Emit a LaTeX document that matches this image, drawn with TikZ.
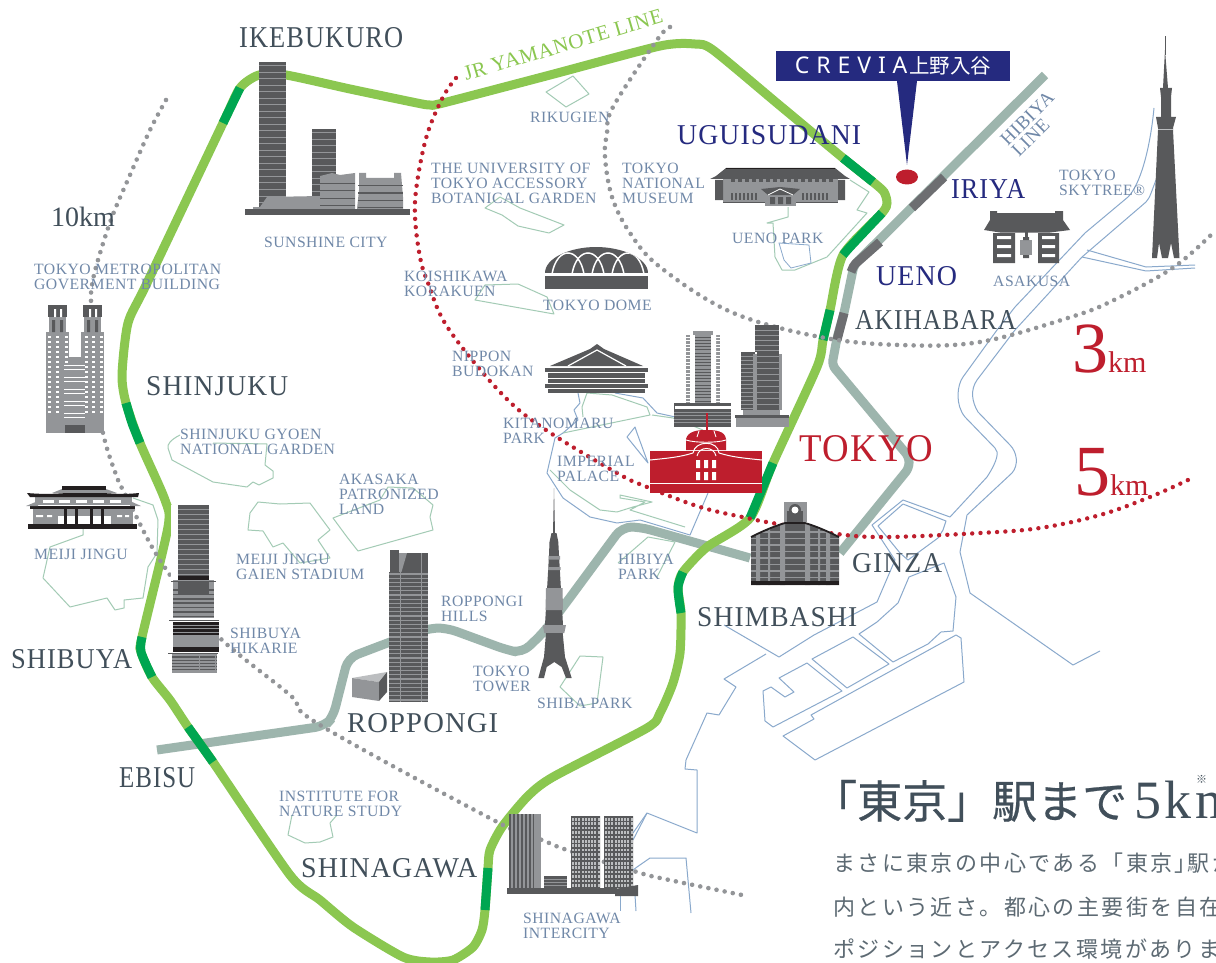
\documentclass[tikz,border=0pt]{standalone}
\usepackage{graphicx}
\usepackage{fontspec}
\setmainfont{Liberation Serif}
\newfontfamily\tjs[LetterSpace=3]{Liberation Serif}
\newfontfamily\tjb[LetterSpace=4]{Liberation Serif}
\newfontfamily\cjk{Noto Sans CJK JP}
\newfontfamily\cjkh[FakeBold=0.5]{Noto Sans CJK JP}
\newfontfamily\cjkb[LetterSpace=11]{Noto Sans CJK JP}
\newfontfamily\crv[LetterSpace=30]{Noto Sans}
\definecolor{bdk}{HTML}{58595B}
\definecolor{bmd}{HTML}{939598}
\definecolor{blt}{HTML}{BCBEC0}
\definecolor{blk}{HTML}{231F20}
\definecolor{rd}{HTML}{BE1E2D}
\definecolor{nv}{HTML}{252A7F}
\definecolor{stnc}{HTML}{414F5A}
\definecolor{smlc}{HTML}{7088A8}
\definecolor{lg}{HTML}{8BC750}
\definecolor{dg}{HTML}{00A651}
\definecolor{hib}{HTML}{9DB5AD}
\definecolor{hdk}{HTML}{6D6E71}
\definecolor{wat}{HTML}{8AA9CC}
\definecolor{prk}{HTML}{A3CBB5}
\definecolor{bodyc}{HTML}{5D6A73}
\tikzset{
  water/.style={draw=wat,line width=1pt,line join=round},
  park/.style={draw=prk,line width=1pt,line join=round},
  yama/.style={draw=lg,line width=9pt},
  yamad/.style={draw=dg,line width=9pt},
  hibi/.style={draw=hib,line width=9pt},
  hibid/.style={draw=hdk,line width=9pt},
  ringgray/.style={draw=bmd,line width=4.6pt,line cap=round,dash pattern=on 0pt off 8.3pt},
  ringred/.style={draw=rd,line width=4.4pt,line cap=round,dash pattern=on 0pt off 8.3pt},
  smalllab/.style={anchor=north west,inner sep=0pt,yshift=-1.5pt,align=left,text=smlc,font={\tjs\fontsize{15.7}{15}\selectfont}},
}
% station label fitted to the reference extent
\newcommand\stn[7]{\node[anchor=base west,inner sep=0pt,text=#6] (#1) at (#2,#3) {\resizebox{#4pt}{#5pt}{\tjb\fontsize{27}{27}\selectfont #7}};}
\newcommand\hstr[7]{\pgfmathsetmacro\yb{#2+#5}\foreach \yy in {#2,\yb,...,#4}{\draw[#6,line width=#7pt] (#1,\yy) -- (#3,\yy);}}
\newcommand\vstr[7]{\pgfmathsetmacro\xb{#1+#5}\foreach \xx in {#1,\xb,...,#3}{\draw[#6,line width=#7pt] (\xx,#2) -- (\xx,#4);}}
\begin{document}
\begin{tikzpicture}[x=1pt,y=-1pt]
\path[clip] (0,0) rectangle (1216,963);
\fill[white] (0,0) rectangle (1216,963);
% ---------- water
\path[water] (1154,108) .. controls (1150,150) and (1140,185) .. (1128,197) -- (1085,233) -- (1015,307) -- (997,330) -- (963,377) .. controls (957,385) and (955,405) .. (965,417) -- (995,448) .. controls (999,452) and (998,460) .. (987,477) -- (950,517) -- (903,500) -- (872,525) -- (895,560) -- (877,602) -- (814,635) -- (779,657) -- (724,625);
\path[water] (1156,180) .. controls (1152,190) and (1150,198) .. (1146,202) -- (1082,257) -- (1015,330) -- (977,380) .. controls (970,390) and (972,402) .. (978,412) -- (1010,445) .. controls (1017,452) and (1019,465) .. (1012,473) -- (967,515) -- (960,552) -- (970,593) -- (1073,665) -- (1100,651);
\path[water] (1087,250) -- (1146,267) -- (1195,265);
\path[water] (1082,257) -- (1146,271) -- (1195,268);
\path[water] (946,521) -- (903,504) -- (878,526) -- (900,553) -- (908,560) -- (938,538) -- (943,530) -- cycle;
\path[water] (909,577) -- (944,563) -- (956,597) -- (953,631) -- (941,632) -- (928,644) -- (893,662) -- (859,634) -- (877,622) -- (898,603) -- cycle;
\path[water] (812,659) -- (853,637) -- (889,664) -- (847,688) -- cycle;
\path[water] (807,663) -- (842,691) -- (773,727) -- (765,721) -- (763,691) -- (771,687) -- (785,697) -- (794,692) -- (779,678) -- cycle;
\path[water] (956,635) -- (961,638) -- (964,682) -- (815,760) -- (783,736) -- (814,719) -- (811,715) -- cycle;
\path[water] (766,654) -- (724,679) -- (736,687) -- (719,715) -- (707,713) -- (686,760) -- (685,769) -- (697,770) -- (697,833) -- (647,813) -- (633,833);
\path[water] (620,880) -- (637,867) -- (650,858) -- (686,858) -- (691,913);
\path[water] (633,840) -- (647,813);
\path[water] (620,895) -- (620,911);
\path[water] (635,895) -- (636,911);
\path[water] (578,393) -- (580,403) -- (574,410) -- (578,420) -- (563,433) -- (555,438) -- (547,473) -- (563,498) -- (590,517) -- (617,523) -- (640,520) -- (690,535) -- (708,493);
\path[water] (615,393) -- (643,398) -- (657,413) -- (680,418);
\path[water] (635,427) -- (627,437) -- (648,463) -- (637,433) -- cycle;
% ---------- parks
\path[park] (546,92) -- (573,76) -- (589,94) -- (566,107) -- cycle;
\path[park] (475,300) -- (485,285) -- (518,284) -- (547,297) -- (554,314) -- cycle;
\path[park] (485,208) -- (500,197) -- (520,208) -- (564,225) -- (549,233) -- (518,226) -- (502,215) -- cycle;
\path[park] (850,180) -- (869,192) -- (857,210) -- (867,213) -- (827,257) -- (795,270) -- (782,270) -- (775,257) -- (773,223) -- (767,223) -- (788,217) -- (788,207);
\path[draw=wat,line width=.8pt] (779,243) -- (809,245) -- (811,263) -- (791,268) -- (784,260) -- cycle;
\path[park] (180,435) .. controls (170,440) and (167,445) .. (168,448) -- (172,460) -- (213,482) -- (247,487) -- (253,482) -- (259,485) -- (273,478) -- (273,471) -- (265,465) -- (267,444) -- (213,443);
\path[park] (333,518) -- (380,500) -- (388,487) -- (413,488) -- (433,505) -- (430,517) -- (433,530) -- (358,551) -- (347,537) -- cycle;
\path[park] (248,530) -- (250,513) -- (258,502) -- (280,504) -- (310,503) -- (330,530) -- (318,540) -- (330,558) -- (300,563) -- (283,543) -- (273,547) -- (263,531) -- cycle;
\path[park] (83,513) -- (83,535) -- (50,547) -- (43,578) -- (70,607) -- (107,598) -- (115,610) -- (124,608) -- (124,600) -- (143,598) -- (148,567) -- (157,553) -- (158,520) -- (153,505) -- (133,498);
\path[park] (292,815) -- (288,835) -- (305,843) -- (320,842) -- (333,837) -- (330,823) -- (337,815);
\path[park] (560,687) -- (580,656) -- (603,657) -- (597,703) -- (580,706) -- cycle;
\path[park] (618,563) -- (648,537) -- (675,542) -- (657,577);
\path[park] (563,433) -- (650,415) -- (647,407) -- (612,395) -- (587,393) -- (582,407) -- (583,417);
\path[park] (550,470) -- (570,490) -- (600,510) -- (617,512) -- (633,507) -- (652,502) -- (620,495) -- (620,498) -- (645,502) -- (630,510) -- (685,527);
\path[park] (652,415) -- (673,418) -- (703,430);
% ---------- rail lines
\draw[hibi,rounded corners=10pt] (750,558) -- (640,527) -- (622,527) -- (563,607) -- (543,633) -- (522,653) -- (507,650) -- (447,628) -- (430,628) -- (390,642) -- (348,658) -- (333,717) -- (325,726) -- (157,750);
\draw[hibi,rounded corners=5pt] (1045,75) -- (854,265) -- (844,313) -- (837,338) -- (832,365) -- (909,457) -- (909,468) -- (840,553);
\draw[hibid] (944,177) -- (912,208);
\draw[hibid,rounded corners=2pt] (880,242) -- (854,265) -- (851,272);
\draw[hibid] (844,313) -- (837,340);
\draw[yama] plot[smooth cycle,tension=.42] coordinates {(259,75) (286,75) (350,89) (417,103) (430,105) (443,103) (550,75) (660,46) (695,44) (713,50) (778,104) (843,158) (873,182) (884,192) (887,203) (882,213) (843,255) (830,310) (823,340) (817,367) (773,463) (750,518) (707,547) (683,572) (678,588) (681,613) (680,653) (673,683) (660,713) (647,728) (553,777) (527,797) (502,827) (490,850) (488,868) (485,910) (482,930) (473,947) (453,960) (430,962) (403,957) (353,927) (320,900) (290,875) (213,762) (188,727) (170,700) (152,677) (141,652) (142,637) (168,527) (165,500) (140,443) (126,403) (122,375) (128,323) (147,283) (223,123) (240,88)};
\draw[yamad] (240,88) -- (223,123);
\draw[yamad] plot[smooth,tension=.4] coordinates {(126,403) (132,423) (140,443)};
\draw[yamad] plot[smooth,tension=.5] coordinates {(142,637) (141,652) (152,677)};
\draw[yamad] (188,727) -- (213,762);
\draw[yamad] (488,868) -- (485,910);
\draw[yamad] plot[smooth,tension=.5] coordinates {(683,572) (678,588) (681,613)};
\draw[yamad] (773,463) -- (750,518);
\draw[yamad] (830,310) -- (823,340);
\draw[yamad] plot[smooth,tension=.3] coordinates {(882,213) (850,247) (843,255)};
\draw[yamad] (843,158) -- (873,182);
% ---------- rings
\draw[ringgray] plot[smooth,tension=.6] coordinates {(670,27) (657,40) (613,107) (607,133) (605,157) (612,197) (630,233) (660,267) (731,312) (820,337) (900,345) (980,342) (1071,317) (1114,300) (1174,267) (1216,230)};
\draw[ringgray] plot[smooth,tension=.6] coordinates {(166,100) (150,130) (130,175) (112,217) (98,260) (92,285) (91,303) (92,360) (103,433) (118,480) (123,490) (137,518) (152,547) (170,575) (190,600) (222,640) (290,695) (320,725) (503,825) (542,840) (567,850) (637,872) (660,878) (742,895)};
\draw[ringred] plot[smooth,tension=.6] coordinates {(456,78) (443,97) (427,135) (417,183) (415,217) (420,257) (428,283) (448,328) (500,392) (543,428) (617,473) (647,487) (700,507) (747,518) (772,523) (837,534) (887,537) (980,533) (1040,528) (1100,515) (1150,497) (1188,480)};
% ---------- Sunshine City
\fill[bdk] (259,62) rectangle (286,207);
\hstr{259}{66}{286}{205}{6.5}{bmd}{1}
\fill[bdk] (312,129) rectangle (336,200);
\hstr{312}{133}{336}{198}{6.5}{bmd}{1}
\fill[bmd] (253,209) -- (253,207) -- (260,207) -- (267,197) -- (320,196) -- (320,209) -- cycle;
\fill[bmd] (320,176) -- (332,173) -- (340,175) -- (355,173) -- (355,209) -- (320,209) -- cycle;
\fill[bmd] (359,173) -- (366,173) -- (366,178) -- (394,178) -- (394,173) -- (401,173) -- (403,197) -- (403,209) -- (357,209) -- (359,190) -- cycle;
\hstr{320}{184}{355}{207}{7}{bdk}{1}
\hstr{358}{186}{403}{207}{7}{bdk}{1}
\fill[bdk] (245,209) rectangle (410,215);
% ---------- Tokyo metropolitan building
\fill[bmd] (46,332) rectangle (69,433);
\fill[bmd] (81,332) rectangle (104,433);
\fill[bmd] (69,357) rectangle (81,433);
\fill[bmd] (49,317) rectangle (66,332);
\fill[bmd] (84,317) rectangle (101,332);
\fill[bdk] (48,305) rectangle (67,317);
\fill[bdk] (83,305) rectangle (102,317);
\fill[white] (54,309) rectangle (56,317) (60,309) rectangle (62,317) (89,309) rectangle (91,317) (95,309) rectangle (97,317);
\fill[bdk] (52,320) rectangle (55,332) (60,320) rectangle (63,332) (87,320) rectangle (90,332) (95,320) rectangle (98,332);
\foreach \xx in {48,56,65,85,92,100}{\foreach \yy in {336,341,...,415}{\fill[white] (\xx,\yy) rectangle (\xx+3,\yy+2);}}
\fill[bmd] (64,363) rectangle (85,433);
\foreach \yy in {365,377,389,401,413}{\draw[white,line width=.9pt] (64,\yy) -- (85,\yy) (64,\yy+4) -- (85,\yy+4);}
\fill[bdk] (65,425) rectangle (85,433);
% ---------- Meiji Jingu
\fill[blk] (28,524) rectangle (137,529);
\fill[bmd] (33,509) rectangle (133,524);
\fill[white] (58,516) rectangle (111,524);
\foreach \xx in {64,75,90,101}{\fill[blk] (\xx,509) rectangle (\xx+3,524);}
\fill[white] (36,515) rectangle (43,517) (47,515) rectangle (52,517) (117,515) rectangle (122,517) (125,515) rectangle (129,517);
\fill[bmd] (35,497) rectangle (132,505);
\foreach \xx in {43,59,76,93,110}{\fill[white] (\xx,500) rectangle (\xx+11,503);}
\fill[blk] (30,506) rectangle (135,509);
\fill[bmd] (26,506) -- (38,501) -- (38,506) -- cycle;
\fill[bmd] (141,506) -- (130,501) -- (130,506) -- cycle;
\fill[bmd] (52,493) -- (62,489) -- (106,489) -- (117,493) -- cycle;
\fill[blk] (62,486) rectangle (106,490);
\fill[blk] (27,493) .. controls (50,495) and (60,493) .. (70,493) -- (100,493) .. controls (110,493) and (120,495) .. (139,493) -- (138,497) -- (30,497) -- cycle;
% ---------- Shibuya Hikarie
\fill[white] (171,505) rectangle (219,675);
\fill[bdk] (178,505) rectangle (209,576);
\hstr{178}{509}{209}{574}{5}{bmd}{1}
\fill[blk] (178,576) rectangle (209,580);
\fill[bmd] (173,580) rectangle (214,618);
\hstr{173}{590}{214}{618}{4.4}{bdk}{1.5}
\fill[bdk] (178,582) rectangle (209,595);
\draw[bdk,line width=1pt] (171,581) -- (216,581) (169,620) -- (219,620) (168,653) -- (218,653);
\fill[blk] (173,622) rectangle (219,635);
\hstr{173}{625}{219}{634}{3.6}{bmd}{.9}
\fill[bmd] (173,635) rectangle (219,647);
\fill[blk] (173,647) rectangle (219,652);
\fill[bmd] (172,654) rectangle (217,673);
\hstr{172}{657}{217}{672}{3.2}{bdk}{1.3}
\draw[bmd,line width=1pt] (199,654) -- (199,673) (215.5,654) -- (215.5,673);
% ---------- Roppongi Hills
\fill[bdk] (390,550) rectangle (399,572);
\fill[bdk] (399,553) rectangle (428,572);
\fill[bmd] (399,553) -- (407,553) -- (401.5,572) -- (399,572) -- cycle;
\fill[bmd] (421,553) rectangle (422,572);
\fill[bdk] (389,572) rectangle (428,702);
\hstr{389}{574}{428}{701}{4.2}{bmd}{1.2}
\draw[bmd,line width=1pt] (400,572) -- (400,702) (421,572) -- (421,702);
\fill[blt] (352,678) -- (387,672) -- (379,682) -- cycle;
\fill[bmd] (352,678) -- (379,682) -- (379,701) -- (352,697) -- cycle;
\fill[bdk] (379,682) -- (387,672) -- (387,692) -- (379,701) -- cycle;
% ---------- Tokyo Tower
\fill[bdk] (554,488) -- (555,533) -- (556.5,533) -- (558.3,542) -- (559,555) -- (563,625) -- (545,625) -- (549,555) -- (549.5,542) -- (551.5,533) -- (553,533) -- cycle;
\fill[bmd] (548.5,556) rectangle (560,559.5) (548,567) rectangle (560.5,570);
\fill[bmd] (546,588) -- (562.5,588) -- (563,610) -- (545.5,610) -- cycle;
\fill[bmd] (542.7,625) -- (566,625) -- (564.3,633) -- (544.3,633) -- cycle;
\fill[bdk] (546,633) -- (562.7,633) -- (565,657) -- (571.7,678) -- (566,678) -- (561.7,667) -- (554.3,662) -- (546.7,667) -- (544,678) -- (538.3,678) -- (544,657) -- cycle;
% ---------- Tokyo Dome
\begin{scope}
\clip (545,273) .. controls (545,258) and (570,247) .. (596,247) .. controls (622,247) and (648,258) .. (648,273) -- cycle;
\fill[bdk] (545,245) rectangle (648,273);
\foreach \s in {552,572,592,612}{\draw[white,line width=1.5pt] (\s,274) .. controls (\s+5,246) and (\s+27,246) .. (\s+32,274);}
\end{scope}
\fill[bdk] (545,276) rectangle (648,289);
% ---------- Budokan
\fill[bdk] (550,366) -- (590,349) -- (597,344) -- (604,349) -- (643,366) -- cycle;
\draw[white,line width=1.2pt] (568,366) -- (597,350) -- (626,366);
\fill[bdk] (545,368) rectangle (648,372);
\fill[bdk] (548,373) rectangle (645,378);
\fill[bdk] (548,379) rectangle (645,383);
\fill[bdk] (545,384) rectangle (648,388);
\fill[bdk] (548,389) rectangle (645,393);
% ---------- National Museum
\fill[bmd] (723,176) rectangle (838,202);
\fill[bdk] (715,180) rectangle (723,200) (838,180) rectangle (845,200);
\fill[bdk] (726,168) -- (835,168) -- (845,176) -- (850,179) -- (710,179) -- (716,176) -- cycle;
\draw[blk,line width=.9pt] (726,168) -- (835,168);
\foreach \xx in {731,738,...,829}{\fill[bdk] (\xx,178.5) rectangle (\xx+3.5,182);}
\foreach \xx in {731,735,...,757,802,806,...,828}{\fill[bdk] (\xx,193) rectangle (\xx+2.2,200);}
\fill[bdk] (723,202) rectangle (838,203);
\fill[bmd] (765,192) rectangle (796,206);
\fill[bdk] (761,189) -- (780,187) -- (800,189) -- (793,195) -- (768,195) -- cycle;
\draw[white,line width=.8pt] (768,195) -- (780,189) -- (793,195);
\fill[bdk] (770,197) rectangle (775,204) (778,197) rectangle (783,204) (786,197) rectangle (791,204);
% ---------- Asakusa gate
\fill[bdk] (993,233) rectangle (1015,263) (1038,233) rectangle (1059,263);
\foreach \yy in {236,245,254}{\fill[white] (997,\yy) rectangle (1011,\yy+3) (1042,\yy) rectangle (1055,\yy+3);}
\fill[bmd] (1020,240) rectangle (1032,255);
\fill[bdk] (1023,237) rectangle (1029,240) (1023,255) rectangle (1029,258);
\fill[bdk] (1024.5,232) rectangle (1027.5,238);
\fill[bdk] (990,211) -- (997,211) -- (997,213) -- (1055,213) -- (1055,211) -- (1063,211) -- (1063,220) -- (1070,230) -- (1050,232.5) -- (1000,232.5) -- (984,230) -- (990,220) -- cycle;
% ---------- Skytree
\fill[bdk] (1164.8,36) rectangle (1165.5,55);
\fill[bdk] (1165,50) -- (1168,88) -- (1172,88) -- (1171,97) -- (1171,117) -- (1176,117) -- (1173,128) -- (1173,130) -- (1179.5,258) -- (1174,258) -- (1171,243) -- (1168,258) -- (1162,258) -- (1159,243) -- (1157,258) -- (1152,258) -- (1158,130) -- (1158,128) -- (1156,117) -- (1161,117) -- (1161,97) -- (1160,88) -- (1163,88) -- cycle;
\draw[blt,line width=1pt] (1158,129.5) -- (1173,129.5);
% ---------- Two Marunouchi towers
\fill[bmd] (686,335) rectangle (720,403);
\hstr{686}{337}{720}{402}{3.6}{white}{1}
\fill[white] (691,328) -- (714,328) -- (716,335) -- (716,403) -- (690,403) -- (690,335) -- cycle;
\fill[bmd] (693,331) rectangle (713,335);
\fill[bmd] (695,335) rectangle (711,403);
\hstr{695}{337}{711}{402}{3.2}{bdk}{1}
\fill[bdk] (674,403) rectangle (731,427);
\fill[white] (675,406) rectangle (731,409);
\hstr{674}{412}{731}{426}{3.6}{bmd}{1}
\fill[bdk] (755,325) rectangle (779,352);
\hstr{755}{330}{779}{350}{5}{bmd}{1}
\fill[bdk] (741,352) rectangle (755,410);
\hstr{741}{356}{755}{408}{4}{bmd}{1}
\fill[bmd] (753,354) rectangle (782,410);
\fill[bdk] (757,352) rectangle (779,410);
\hstr{757}{356}{779}{408}{6}{bmd}{1}
\fill[bmd] (743,410) rectangle (780,415);
\fill[bdk] (735,415) rectangle (789,418);
\fill[bmd] (736,418) rectangle (789,427);
% ---------- Tokyo Station
\fill[rd] (650,451) rectangle (762,493);
\draw[rd,line width=1.3pt] (707,413) -- (707,430);
\fill[rd] (686,439) .. controls (688,431) and (698,430) .. (706,430) .. controls (716,430) and (725,431) .. (726,439) -- (726,450) -- (686,450) -- cycle;
\draw[white,line width=.9pt] (686,440) .. controls (695,443) and (717,443) .. (726,440);
\draw[white,line width=.9pt] (697,437) -- (699,431) (716,437) -- (714,431);
\draw[white,line width=1pt] (650,460) .. controls (670,458) and (680,457) .. (693,453) (762,460) .. controls (742,458) and (732,457) .. (719,453);
\draw[white,line width=1pt] (693,453) .. controls (695,440) and (718,440) .. (719,453);
\draw[white,line width=1pt] (697,456) .. controls (699,446) and (714,446) .. (716,456);
\fill[white] (696,460) rectangle (700,468) (704,460) rectangle (708,468) (712,460) rectangle (716,468);
\fill[white] (696,472) rectangle (700,480) (704,472) rectangle (708,480) (712,472) rectangle (716,480);
\draw[white,line width=1.4pt] (650,483.5) -- (762,483.5);
% ---------- Ginza building
\fill[bdk] (751,537) .. controls (765,530) and (775,526) .. (785,523) -- (805,523) .. controls (815,526) and (825,530) .. (839,537) -- (839,585) -- (751,585) -- cycle;
\begin{scope}
\clip (751,537) .. controls (765,530) and (775,526) .. (785,523) -- (805,523) .. controls (815,526) and (825,530) .. (839,537) -- (839,585) -- (751,585) -- cycle;
\hstr{751}{532}{839}{580}{6.5}{bmd}{1.4}
\fill[bmd] (756,528) rectangle (760,587) (780,520) rectangle (785,587) (805,520) rectangle (810,587) (826,528) rectangle (830,587);
\fill[bmd] (768,528) rectangle (770,587) (818,528) rectangle (820,587);
\end{scope}
\fill[blk] (751,581) rectangle (839,585);
\draw[blk,line width=1.8pt] (751,537) .. controls (765,530) and (775,526) .. (785,523) -- (805,523) .. controls (815,526) and (825,530) .. (839,537);
\fill[bmd] (784,502) rectangle (807,522);
\fill[bdk] (787,511) -- (803,511) -- (803,522) -- (787,522) -- cycle;
\fill[bdk] (795,510) circle[radius=6];
\fill[white] (795,510) circle[radius=3.5];
% ---------- Shinagawa Intercity
\fill[bmd] (509,814) rectangle (541,888);
\fill[bdk] (509,814) rectangle (534,888);
\vstr{512}{814}{534}{888}{4}{bmd}{1.3}
\fill[bdk] (544,876) rectangle (567,888);
\hstr{544}{879}{567}{887}{3}{bmd}{.9}
\fill[bdk] (571,816) rectangle (600,888) (604,816) rectangle (633,888);
\foreach \xx in {571,604}{\foreach \dx in {1,4.2,...,27}{\foreach \yy in {818,822.4,...,886}{\fill[blt] (\xx+\dx,\yy) rectangle (\xx+\dx+2,\yy+2.6);}}}
\fill[bdk] (507,888) rectangle (617,894);
\fill[bdk] (615,889) -- (638,885) -- (638,896) -- (615,896) -- cycle;
% ---------- Callout
\node[fill=nv,text=white,anchor=north west,inner sep=0pt,minimum width=234pt,minimum height=30pt] (crevia) at (776,51) {{\crv\fontsize{23}{23}\selectfont CREVIA}\hspace{2pt}{\cjk\fontsize{20.5}{20.5}\selectfont 上野入谷}};
\fill[nv] (897,81) -- (917,81) -- (907,165) -- cycle;
\fill[rd] (907,177) ellipse[x radius=11,y radius=7.5];
% ---------- Large labels
\stn{ike}{239}{48}{164}{20}{stnc}{IKEBUKURO}
\stn{shinj}{146}{395}{142}{19}{stnc}{SHINJUKU}
\stn{shibu}{11}{668}{121}{19}{stnc}{SHIBUYA}
\stn{ebi}{119}{787}{76}{20}{stnc}{EBISU}
\stn{rop}{347}{732}{151}{19}{stnc}{ROPPONGI}
\stn{shina}{301}{877}{176}{19}{stnc}{SHINAGAWA}
\stn{shim}{697}{626}{160}{19}{stnc}{SHIMBASHI}
\stn{gin}{852}{572}{90}{19}{stnc}{GINZA}
\stn{aki}{855}{329}{161}{19}{stnc}{AKIHABARA}
\stn{ugu}{677}{145}{184}{19}{nv}{UGUISUDANI}
\stn{iri}{951}{199}{74}{19}{nv}{IRIYA}
\stn{uen}{876}{285}{81}{19}{nv}{UENO}
\stn{tky}{799}{461}{134}{26}{rd}{TOKYO}
\node[anchor=base west,inner sep=0pt,text=stnc,font=\fontsize{28}{28}\selectfont] (tenkm) at (51,226) {10km};
\node[anchor=base west,inner sep=0pt,text=rd] (km3) at (1072,372) {{\fontsize{72}{72}\selectfont 3}{\fontsize{30}{30}\selectfont km}};
\node[anchor=base west,inner sep=0pt,text=rd] (km5) at (1074,495) {{\fontsize{72}{72}\selectfont 5}{\fontsize{30}{30}\selectfont km}};
\node[anchor=base west,inner sep=0pt,rotate=16.5,text=lg,font={\tjs\fontsize{21}{21}\selectfont}] (jr) at (466,81) {JR YAMANOTE LINE};
\node[anchor=base west,inner sep=0pt,rotate=45,align=left,text=smlc,font={\tjs\fontsize{19}{16}\selectfont}] (hbl) at (1019,158) {HIBIYA\\LINE};
% ---------- Small labels
\node[smalllab] (l1) at (264,235) {SUNSHINE CITY};
\node[smalllab] (l2) at (34,262) {TOKYO METROPOLITAN\\GOVERMENT BUILDING};
\node[smalllab] (l3) at (431,161) {THE UNIVERSITY OF\\TOKYO ACCESSORY\\BOTANICAL GARDEN};
\node[smalllab] (l4) at (530,110) {RIKUGIEN};
\node[smalllab] (l5) at (622,161) {TOKYO\\NATIONAL\\MUSEUM};
\node[smalllab] (l6) at (732,231) {UENO PARK};
\node[smalllab] (l7) at (1059,168) {TOKYO\\SKYTREE®};
\node[smalllab] (l8) at (993,274) {ASAKUSA};
\node[smalllab] (l9) at (404,269) {KOISHIKAWA\\KORAKUEN};
\node[smalllab] (l10) at (543,298) {TOKYO DOME};
\node[smalllab] (l11) at (452,349) {NIPPON\\BUDOKAN};
\node[smalllab] (l12) at (503,416) {KITANOMARU\\PARK};
\node[smalllab] (l13) at (557,454) {IMPERIAL\\PALACE};
\node[smalllab] (l14) at (618,552) {HIBIYA\\PARK};
\node[smalllab] (l15) at (180,427) {SHINJUKU GYOEN\\NATIONAL GARDEN};
\node[smalllab] (l16) at (339,472) {AKASAKA\\PATRONIZED\\LAND};
\node[smalllab] (l17) at (34,547) {MEIJI JINGU};
\node[smalllab] (l18) at (236,552) {MEIJI JINGU\\GAIEN STADIUM};
\node[smalllab] (l19) at (230,626) {SHIBUYA\\HIKARIE};
\node[smalllab] (l20) at (441,594) {ROPPONGI\\HILLS};
\node[smalllab] (l21) at (473,664) {TOKYO\\TOWER};
\node[smalllab] (l22) at (537,696) {SHIBA PARK};
\node[smalllab] (l23) at (279,789) {INSTITUTE FOR\\NATURE STUDY};
\node[smalllab] (l24) at (523,911) {SHINAGAWA\\INTERCITY};
% ---------- Heading and body
\node[anchor=base west,inner sep=0pt,text=stnc] (head) at (812,818) {{\cjkh\fontsize{45}{45}\selectfont 「東京」駅まで}\kern7pt{\fontsize{54}{54}\selectfont\addfontfeature{LetterSpace=7}5km}};
\node[anchor=base west,inner sep=0pt,text=stnc,font={\cjk\fontsize{11}{11}\selectfont}] (note) at (1196,783) {※};
\node[anchor=base west,inner sep=0pt,text=bodyc,font={\cjkb\fontsize{22}{22}\selectfont}] (b1) at (833,871) {まさに東京の中心である「東京」\kern-9pt 駅か};
\node[anchor=base west,inner sep=0pt,text=bodyc,font={\cjkb\fontsize{22}{22}\selectfont}] (b2) at (833,915) {内という近さ。都心の主要街を自在};
\node[anchor=base west,inner sep=0pt,text=bodyc,font={\cjkb\fontsize{22}{22}\selectfont}] (b3) at (833,957) {ポジションとアクセス環境があります};
\end{tikzpicture}
\end{document}
